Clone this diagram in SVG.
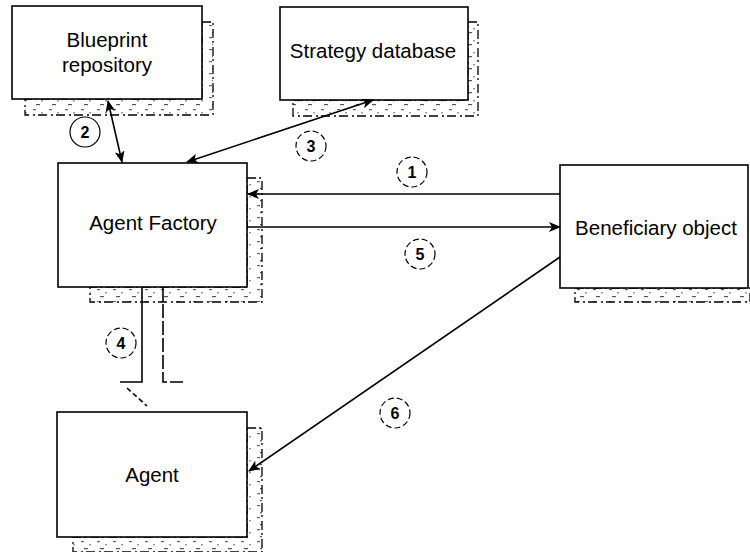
<svg xmlns="http://www.w3.org/2000/svg" width="750" height="552" viewBox="0 0 750 552">
<style>
.box{fill:#fff;stroke:#000;stroke-width:1.6}
.shadow{fill:url(#speck);stroke:#000;stroke-width:1.3;stroke-dasharray:9 3 2 4}
.lbl{font-family:"Liberation Sans",Arial,sans-serif;font-size:20.5px;text-anchor:middle;fill:#000}
.num{font-family:"Liberation Sans",Arial,sans-serif;font-size:16px;font-weight:bold;text-anchor:middle;fill:#000}
.circ{fill:none;stroke:#000;stroke-width:1.2;stroke-dasharray:6 3}
.line{fill:none;stroke:#000;stroke-width:1.6}
.arr{marker-end:url(#ah)}
.arr2{marker-start:url(#ah);marker-end:url(#ah)}
</style>
<defs>
<pattern id="speck" width="16" height="12" patternUnits="userSpaceOnUse">
<rect width="16" height="12" fill="#fff"/>
<rect x="1" y="1" width="3" height="1.2" fill="#666"/>
<rect x="9" y="4" width="2" height="1.5" fill="#999"/>
<rect x="4" y="8" width="4" height="1.2" fill="#555"/>
</pattern>
<marker id="ah" viewBox="0 0 12 10" refX="11" refY="5" markerWidth="12" markerHeight="10" markerUnits="userSpaceOnUse" orient="auto-start-reverse">
<path d="M0,0 L12,5 L0,10 L3,5 Z" fill="#000"/>
</marker>
</defs>

<g id="blueprint">
<path class="shadow" d="M202,22 H213 V115 H25 V99 H202 Z"/>
<rect class="box" x="12" y="6" width="190" height="93"/>
<text class="lbl" x="107" y="47">Blueprint</text>
<text class="lbl" x="107" y="72">repository</text>
</g>

<g id="strategy">
<path class="shadow" d="M468,22 H478 V116 H293 V100 H468 Z"/>
<rect class="box" x="280" y="7" width="188" height="93"/>
<text class="lbl" x="373" y="58">Strategy database</text>
</g>

<g id="factory">
<path class="shadow" d="M247,178 H262 V302 H90 V287 H247 Z"/>
<rect class="box" x="58" y="163" width="189" height="124"/>
<text class="lbl" x="153" y="230">Agent Factory</text>
</g>

<g id="beneficiary">
<path class="shadow" d="M575,288 H750 V302 H575 Z"/>
<rect class="box" x="560" y="165" width="188" height="123"/>
<text class="lbl" x="656" y="235">Beneficiary object</text>
</g>

<g id="agent">
<path class="shadow" d="M247,428 H262 V552 H73 V537 H247 Z"/>
<rect class="box" x="57" y="412" width="190" height="125"/>
<text class="lbl" x="152" y="482">Agent</text>
</g>

<g id="connectors">
<line class="line arr2" x1="108" y1="101" x2="122" y2="162"/>
<line class="line arr2" x1="373" y1="100" x2="187" y2="162"/>
<line class="line arr" x1="560" y1="194" x2="248" y2="194"/>
<line class="line arr" x1="247" y1="227" x2="560" y2="227"/>
<line class="line arr" x1="560" y1="257" x2="249" y2="471"/>
<path class="line" d="M142,287 V382 H120"/>
<path class="line" d="M163,287 V382 H183" stroke-dasharray="14 3"/>
<line class="line" x1="127" y1="388" x2="147" y2="406" stroke-width="1" stroke-dasharray="5 3"/>
</g>

<g id="labels">
<circle cx="85" cy="132" r="15" fill="none" stroke="#000" stroke-width="1.2"/>
<text class="num" x="85" y="138">2</text>
<circle class="circ" cx="311" cy="146" r="15"/>
<text class="num" x="311" y="152">3</text>
<circle class="circ" cx="412" cy="172" r="15"/>
<text class="num" x="412" y="178">1</text>
<circle class="circ" cx="420" cy="254" r="15"/>
<text class="num" x="420" y="260">5</text>
<circle class="circ" cx="121" cy="343" r="15"/>
<text class="num" x="121" y="349">4</text>
<circle class="circ" cx="395" cy="413" r="15"/>
<text class="num" x="395" y="419">6</text>
</g>
</svg>
